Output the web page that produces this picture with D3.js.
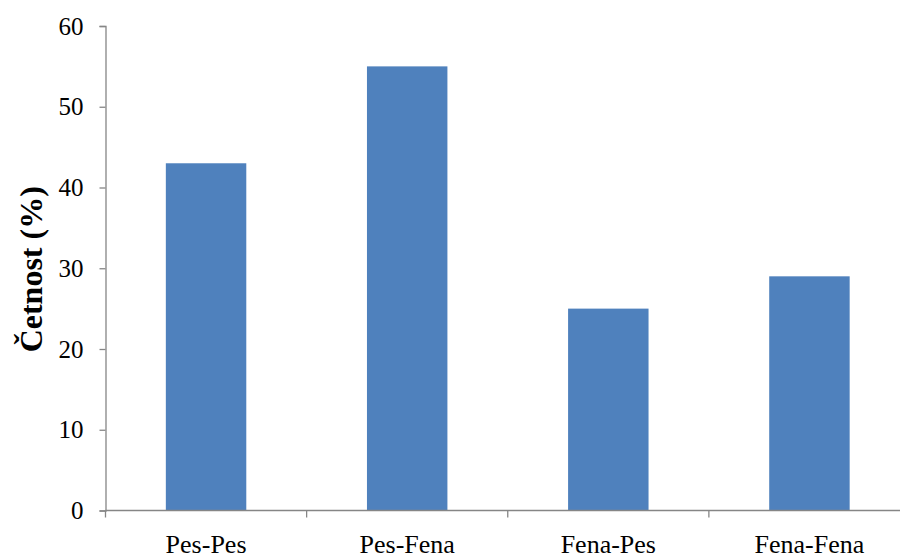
<!DOCTYPE html>
<html><head><meta charset="utf-8">
<script src="https://cdn.jsdelivr.net/npm/d3@7"></script>
<style>body{margin:0;background:#fff}svg{display:block}</style>
</head><body>
<svg id="c" width="900" height="554"></svg>
<script>
const categories = ["Pes-Pes", "Pes-Fena", "Fena-Pes", "Fena-Fena"];
const values = [43, 55, 25, 29];
const yTicks = [0, 10, 20, 30, 40, 50, 60];
const yTitle = "Četnost (%)";

(function () {
const svg = d3.select("#c");
const mLeft = 105.5, mRight = 910, mTop = 26, mBottom = 510.5;
const x = d3.scaleBand().domain(categories).range([mLeft, mRight]).paddingInner(0).paddingOuter(0);
const y = d3.scaleLinear().domain([0, 60]).range([mBottom, mTop]);
const axisColor = "#868686";
const font = "'Liberation Serif', 'Times New Roman', serif";

const barW = x.step() * 0.4;
svg.selectAll("rect.bar").data(values).join("rect")
  .attr("class", "bar")
  .attr("x", (d, i) => x(categories[i]) + (x.bandwidth() - barW) / 2)
  .attr("y", d => y(d))
  .attr("width", barW)
  .attr("height", d => y(0) - y(d))
  .attr("fill", "#4F81BD");

// y axis
const ya = svg.append("g").attr("transform", `translate(${mLeft},0)`)
  .call(d3.axisLeft(y).tickValues(yTicks).tickSize(6).tickPadding(16));
ya.select(".domain").attr("stroke", axisColor).attr("stroke-width", 1.3);
ya.selectAll(".tick line").attr("stroke", axisColor).attr("stroke-width", 1.3);
ya.selectAll(".tick text").attr("font-family", font).attr("font-size", 25).attr("fill", "#000");

// x axis
const xa = svg.append("g").attr("transform", `translate(0,${mBottom})`);
xa.append("line").attr("x1", mLeft).attr("x2", mRight).attr("stroke", axisColor).attr("stroke-width", 1.3);
const bounds = categories.map(c => x(c)).concat([mRight]);
xa.selectAll("line.tk").data(bounds).join("line").attr("class", "tk")
  .attr("x1", d => d).attr("x2", d => d).attr("y1", 0).attr("y2", 7)
  .attr("stroke", axisColor).attr("stroke-width", 1.3);
xa.selectAll("text").data(categories).join("text")
  .attr("x", d => x(d) + x.bandwidth() / 2)
  .attr("y", 42.5)
  .attr("text-anchor", "middle")
  .attr("font-family", font).attr("font-size", 26).attr("fill", "#000")
  .text(d => d);

svg.append("text")
  .attr("transform", `translate(41.5,${(mTop + mBottom) / 2 + 1}) rotate(-90)`)
  .attr("text-anchor", "middle")
  .attr("font-family", font).attr("font-size", 32).attr("font-weight", "bold")
  .text(yTitle);
})();
</script>
</body></html>
